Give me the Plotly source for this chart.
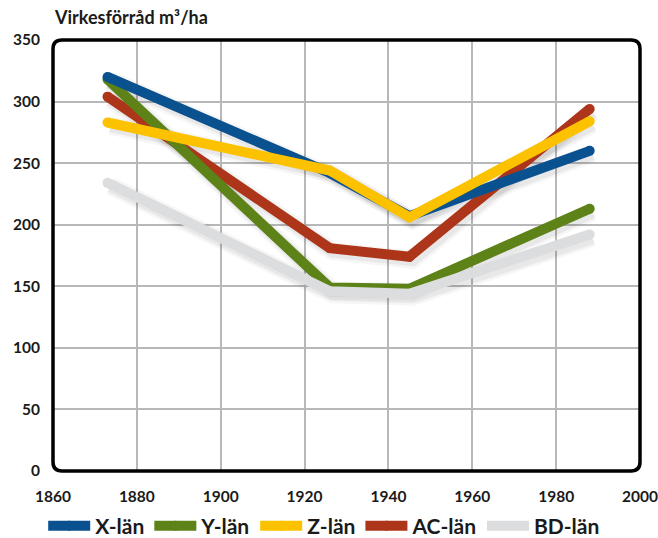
import plotly.graph_objects as go

years = [1873, 1926, 1945, 1988]
x_lan = [320, 242, 207, 260]
y_lan = [318, 149, 148, 213]
z_lan = [283, 244, 206, 284]
ac_lan = [304, 181, 174, 294]
bd_lan = [234, 146, 144, 192]

x_ticks = [1860, 1880, 1900, 1920, 1940, 1960, 1980, 2000]
y_ticks = [0, 50, 100, 150, 200, 250, 300, 350]

series = [
    ("AC-län", ac_lan, "#ad3519", 4),
    ("Y-län", y_lan, "#5c8218", 2),
    ("X-län", x_lan, "#0a5190", 1),
    ("Z-län", z_lan, "#fcc200", 3),
    ("BD-län", bd_lan, "#dcdddf", 5),
]

FONT = "Lato"
fig = go.Figure()

# soft drop shadows
for name, vals, color, rank in series:
    for w, a in [(18, 0.035), (13, 0.055)]:
        fig.add_trace(go.Scatter(
            x=[v + 0.7 for v in years], y=[v - 2.5 for v in vals],
            mode="lines", line=dict(color=f"rgba(0,0,0,{a})", width=w),
            showlegend=False, hoverinfo="skip"))

for name, vals, color, rank in series:
    fig.add_trace(go.Scatter(
        x=years, y=vals, name=name, mode="lines+markers",
        line=dict(color=color, width=10),
        marker=dict(color=color, size=10, line=dict(width=0)),
        legendrank=rank))

# rounded plot frame (paper coords)
W, H = 587.0, 431.0
r = 9.0
rx, ry = r / W, r / H
path = (f"M {rx},0 L {1-rx},0 Q 1,0 1,{ry} L 1,{1-ry} Q 1,1 {1-rx},1 "
        f"L {rx},1 Q 0,1 0,{1-ry} L 0,{ry} Q 0,0 {rx},0 Z")
fig.add_shape(type="path", path=path, xref="paper", yref="paper",
              line=dict(color="black", width=3.5), layer="above")

fig.update_layout(
    width=658, height=538,
    margin=dict(l=53, r=18, t=40, b=67, autoexpand=False),
    paper_bgcolor="white", plot_bgcolor="white",
    font=dict(family=FONT, size=15, color="#1a1a1a", weight="bold"),
    title=dict(text="Virkesförråd m³/ha", x=55/658, xanchor="left",
               y=1 - 18/538, yanchor="middle", automargin=False,
               font=dict(family=FONT, size=18, color="#1a1a1a", weight="bold")),
    showlegend=True,
    legend=dict(orientation="h", x=0.462, xanchor="center", y=-0.128, yanchor="middle",
                font=dict(family=FONT, size=21, color="#1a1a1a", weight="bold"),
                itemwidth=42, traceorder="normal", bgcolor="rgba(0,0,0,0)"),
    xaxis=dict(range=[1860, 2000], tickvals=x_ticks, ticktext=[str(t) for t in x_ticks],
               showgrid=True, gridcolor="#b8b8b8", gridwidth=1.5, zeroline=False,
               showline=False, ticks="", ticklabelstandoff=14, automargin=False,
               tickfont=dict(family=FONT, size=15.5, weight="bold")),
    yaxis=dict(range=[0, 350], tickvals=y_ticks, ticktext=[str(t) for t in y_ticks],
               showgrid=True, gridcolor="#b8b8b8", gridwidth=1.5, zeroline=False,
               showline=False, ticks="", ticklabelstandoff=12, automargin=False,
               tickfont=dict(family=FONT, size=15.5, weight="bold")),
)

fig.write_html("out.html", config={"displayModeBar": False},
               post_script="document.body.style.margin='0';document.body.style.overflow='hidden';")
